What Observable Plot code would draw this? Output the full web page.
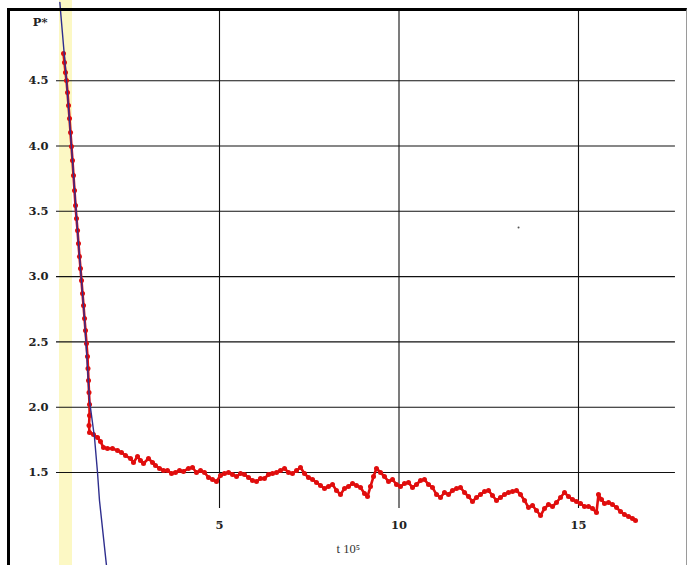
<!DOCTYPE html>
<html><head><meta charset="utf-8">
<script src="https://cdn.jsdelivr.net/npm/d3@7"></script>
<script src="https://cdn.jsdelivr.net/npm/@observablehq/plot@0.6"></script>
<style>
body{margin:0;background:#fff;}
#wrap{position:relative;width:688px;height:565px;overflow:hidden;}
#frame{position:absolute;left:7px;top:8px;width:676px;height:600px;border-top:3px solid #000;border-left:3px solid #000;border-right:1px solid #9a9a9a;pointer-events:none;}
</style>
</head><body>
<div id="wrap"><div id="chart"></div><div id="frame"></div></div>
<script>
// measured series (t in 10^5 units, P*)
const measT = [0.655,0.682,0.710,0.738,0.766,0.794,0.822,0.850,0.877,0.905,0.933,0.961,0.989,1.017,1.045,1.072,1.100,1.128,1.156,1.184,1.212,1.240,1.267,1.295,1.323,1.337,1.351,1.365,1.379,1.379,1.365,1.379,
1.490,1.602,1.685,1.769,1.880,2.019,2.159,2.270,2.382,2.521,2.604,2.716,2.799,2.883,3.022,3.134,3.217,3.329,3.440,3.552,3.663,3.774,3.886,3.997,4.136,4.248,4.359,4.471,4.582,4.694,4.805,4.916,5.028,5.139,5.251,5.362,5.474,5.585,5.696,5.808,5.919,6.031,6.142,6.253,6.365,6.476,6.588,6.699,6.811,6.922,7.033,7.145,7.256,7.368,7.479,7.591,7.702,7.813,7.925,8.036,8.148,8.259,8.370,8.482,8.593,8.705,8.816,8.928,9.039,9.123,9.206,9.290,9.373,9.485,9.596,9.708,9.819,9.930,10.042,10.153,10.265,10.376,10.487,10.599,10.710,10.822,10.933,11.045,11.156,11.267,11.379,11.490,11.602,11.713,11.825,11.936,12.047,12.159,12.270,12.382,12.493,12.604,12.716,12.827,12.939,13.050,13.162,13.273,13.384,13.496,13.607,13.719,13.830,13.942,14.053,14.164,14.276,14.387,14.499,14.610,14.721,14.833,14.944,15.056,15.167,15.279,15.390,15.501,15.557,15.641,15.724,15.836,15.947,16.058,16.170,16.281,16.393,16.504,16.588];
const measP = [4.708,4.639,4.563,4.502,4.410,4.310,4.211,4.103,3.996,3.889,3.774,3.659,3.544,3.445,3.353,3.253,3.154,3.062,2.970,2.871,2.779,2.679,2.587,2.488,2.388,2.296,2.204,2.113,2.021,1.936,1.860,1.806,
1.791,1.768,1.737,1.691,1.684,1.684,1.668,1.653,1.630,1.607,1.577,1.623,1.592,1.569,1.607,1.577,1.554,1.531,1.515,1.515,1.492,1.500,1.515,1.508,1.531,1.538,1.500,1.515,1.500,1.462,1.446,1.431,1.477,1.492,1.500,1.485,1.469,1.492,1.485,1.462,1.439,1.431,1.454,1.454,1.485,1.492,1.500,1.515,1.531,1.500,1.492,1.515,1.538,1.492,1.462,1.446,1.423,1.400,1.377,1.393,1.408,1.362,1.332,1.377,1.393,1.416,1.400,1.385,1.339,1.316,1.393,1.469,1.531,1.500,1.469,1.431,1.446,1.408,1.393,1.416,1.423,1.385,1.408,1.439,1.446,1.408,1.385,1.332,1.309,1.347,1.332,1.362,1.377,1.385,1.347,1.316,1.278,1.309,1.332,1.355,1.362,1.324,1.286,1.309,1.332,1.347,1.355,1.362,1.332,1.286,1.232,1.247,1.209,1.171,1.224,1.255,1.240,1.270,1.309,1.347,1.316,1.293,1.278,1.263,1.240,1.240,1.224,1.194,1.332,1.293,1.263,1.270,1.255,1.232,1.201,1.178,1.163,1.148,1.132];
// fitted line
const fitT = [0.553,0.571,0.738,0.905,1.072,1.240,1.379,1.518,1.602,1.657,1.852,1.880];
const fitP = [5.10,5.037,4.502,3.889,3.253,2.679,2.051,1.768,1.500,1.286,0.788,0.711];
// highlighted band
const bandStart = [0.543];
const bandEnd = [0.905];
// isolated point
const strayT = [13.33];
const strayP = [3.376];
// ticks
const yTicks = [1.5,2.0,2.5,3.0,3.5,4.0,4.5];
const yTickLabels = ["1.5","2.0","2.5","3.0","3.5","4.0","4.5"];
const xTicks = [5,10,15];
const xTickLabels = ["5","10","15"];
const yTitle = "P*";
const xTitle = "t 10\u2075";

const meas = measT.map((t,i)=>({t, p: measP[i]}));
const fit = fitT.map((t,i)=>({t, p: fitP[i]}));
const band = bandStart.map((s,i)=>({x1:s, x2:bandEnd[i]}));
const stray = strayT.map((t,i)=>({t, p: strayP[i]}));
const yT = yTicks.map((v,i)=>({v, label: yTickLabels[i]}));
const xT = xTicks.map((v,i)=>({v, label: xTickLabels[i]}));

const boldSerif = "'DejaVu Serif','Liberation Serif',serif";
const serif = "'Liberation Serif','DejaVu Serif',serif";
const chart = Plot.plot({
  width: 688, height: 565,
  marginLeft: 0, marginRight: 0, marginTop: 0, marginBottom: 0,
  x: {domain: [-1.1003, 18.064], axis: null},
  y: {domain: [0.788, 5.114], axis: null},
  style: {background: "#fff"},
  marks: [
    Plot.rect(band, {x1: "x1", x2: "x2", fill: "#fcf8c4"}),
    Plot.ruleY(yT, {y: "v", x1: 0.46, x2: 17.70, stroke: "#111", strokeWidth: 1.1}),
    Plot.ruleX(xT, {x: "v", y1: 1.224, y2: 5.041, stroke: "#111", strokeWidth: 1.1}),
    Plot.text(yT, {x: 0.237, y: "v", text: "label", textAnchor: "end", fontFamily: boldSerif, fontWeight: "bold", fontSize: 11.5, fill: "#222"}),
    Plot.text(xT, {x: "v", y: 1.094, text: "label", fontFamily: boldSerif, fontWeight: "bold", fontSize: 11.5, fill: "#222"}),
    Plot.text([yTitle], {x: 0.209, y: 4.946, text: d => d, textAnchor: "end", fontFamily: boldSerif, fontWeight: "bold", fontSize: 11.5, fill: "#222"}),
    Plot.text([xTitle], {x: 8.26, y: 0.918, text: d => d, textAnchor: "start", fontFamily: serif, fontSize: 12.5, fill: "#333"}),
    Plot.line(meas, {x: "t", y: "p", stroke: "#e00d0d", strokeWidth: 2.6, strokeLinejoin: "round"}),
    Plot.dot(meas, {x: "t", y: "p", r: 2.5, fill: "#e00d0d"}),
    Plot.line(fit, {x: "t", y: "p", stroke: "#2e2e8e", strokeWidth: 1.4, clip: true}),
    Plot.dot(stray, {x: "t", y: "p", r: 1, fill: "#555"})
  ]
});
document.getElementById("chart").appendChild(chart);
</script>
</body></html>
